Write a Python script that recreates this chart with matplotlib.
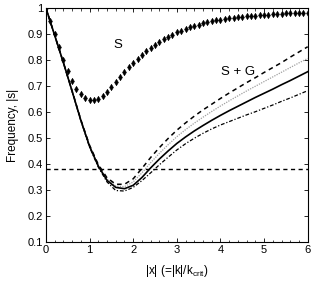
import numpy as np
import matplotlib
matplotlib.use("Agg")
import matplotlib.pyplot as plt
from matplotlib.ticker import MultipleLocator

plt.rcParams['font.family'] = ['Liberation Sans', 'DejaVu Sans']

# S curve (markers every 0.1)
x_s = [round(0.1 * i, 1) for i in range(61)]
s_vals = [1.000, 0.950, 0.899, 0.849, 0.800, 0.758, 0.720, 0.690, 0.668, 0.655,
          0.648, 0.646, 0.650, 0.662, 0.678, 0.697, 0.716, 0.735, 0.754, 0.772,
          0.789, 0.805, 0.820, 0.834, 0.847, 0.859, 0.870, 0.880, 0.890, 0.898,
          0.906, 0.913, 0.920, 0.926, 0.931, 0.936, 0.941, 0.945, 0.949, 0.952,
          0.955, 0.958, 0.960, 0.963, 0.965, 0.967, 0.968, 0.970, 0.971, 0.973,
          0.974, 0.975, 0.976, 0.977, 0.978, 0.979, 0.979, 0.980, 0.981, 0.981,
          0.982]

# S + G curves (every 0.2)
x_g = [round(0.2 * i, 1) for i in range(31)]
g_solid = [1.000, 0.895, 0.790, 0.680, 0.568, 0.468, 0.392, 0.337, 0.310, 0.305,
           0.318, 0.348, 0.385, 0.419, 0.450, 0.479, 0.504, 0.527, 0.548, 0.568,
           0.587, 0.605, 0.622, 0.639, 0.656, 0.672, 0.688, 0.705, 0.721, 0.738,
           0.755]
g_dashed = [1.000, 0.895, 0.790, 0.681, 0.570, 0.472, 0.398, 0.347, 0.322, 0.322,
            0.343, 0.383, 0.425, 0.463, 0.498, 0.530, 0.558, 0.584, 0.608, 0.630,
            0.652, 0.673, 0.693, 0.713, 0.732, 0.752, 0.771, 0.790, 0.811, 0.831,
            0.851]
g_dotted = [1.000, 0.895, 0.790, 0.680, 0.569, 0.470, 0.395, 0.342, 0.315, 0.313,
            0.331, 0.366, 0.405, 0.441, 0.474, 0.505, 0.532, 0.557, 0.580, 0.602,
            0.623, 0.643, 0.662, 0.681, 0.699, 0.717, 0.735, 0.753, 0.771, 0.789,
            0.806]
g_dashdot = [1.000, 0.895, 0.790, 0.679, 0.566, 0.465, 0.388, 0.331, 0.298, 0.296,
             0.310, 0.336, 0.366, 0.397, 0.426, 0.454, 0.478, 0.499, 0.518, 0.535,
             0.550, 0.563, 0.576, 0.589, 0.601, 0.614, 0.627, 0.641, 0.654, 0.668,
             0.682]

h_level = 0.38

fig = plt.figure(figsize=(3.19, 2.91), dpi=100)
ax = fig.add_axes([0.144, 0.1684, 0.8206, 0.8041])

ax.plot(x_g, g_dotted, color='#a0a0a0', lw=0.9, ls=(0, (1, 1)))
ax.plot(x_g, g_dashed, color='black', lw=1.1, ls=(0, (3, 2.5)))
ax.plot(x_g, g_dashdot, color='black', lw=0.9, ls=(0, (3, 1.5, 1, 1.5)))
ax.plot(x_g, g_solid, color='black', lw=1.2, ls='-')
ax.plot(x_s, s_vals, ls='none', marker='d', ms=3.4, color='black', mec='black', mew=0.3)
ax.axhline(h_level, color='black', lw=1.0, ls=(0, (3, 2.5)))

ax.text(1.65, 0.858, 'S', fontsize=9.5, ha='center', va='center')
ax.text(4.4, 0.755, 'S + G', fontsize=9.5, ha='center', va='center')

ax.set_xlim(0, 6)
ax.set_ylim(0.1, 1.0)
ax.xaxis.set_major_locator(MultipleLocator(1))
ax.xaxis.set_minor_locator(MultipleLocator(0.2))
ax.set_yticks(np.arange(0.1, 1.01, 0.1))
ax.set_yticklabels(['0.1', '0.2', '0.3', '0.4', '0.5', '0.6', '0.7', '0.8', '0.9', '1'])
ax.tick_params(which='both', direction='in', top=True, right=True, labelsize=8, pad=2)
ax.tick_params(which='major', length=3, width=0.6)
ax.tick_params(which='minor', length=1.8, width=0.5)
for sp in ax.spines.values():
    sp.set_linewidth(0.8)

ax.set_xlabel(r'|x| (=|k|/k$_{\mathregular{crit}}$)', fontsize=8.5, labelpad=6)
ax.set_ylabel('Frequency, |s|', fontsize=8.5, labelpad=6)

fig.savefig('out.png', dpi=100)
